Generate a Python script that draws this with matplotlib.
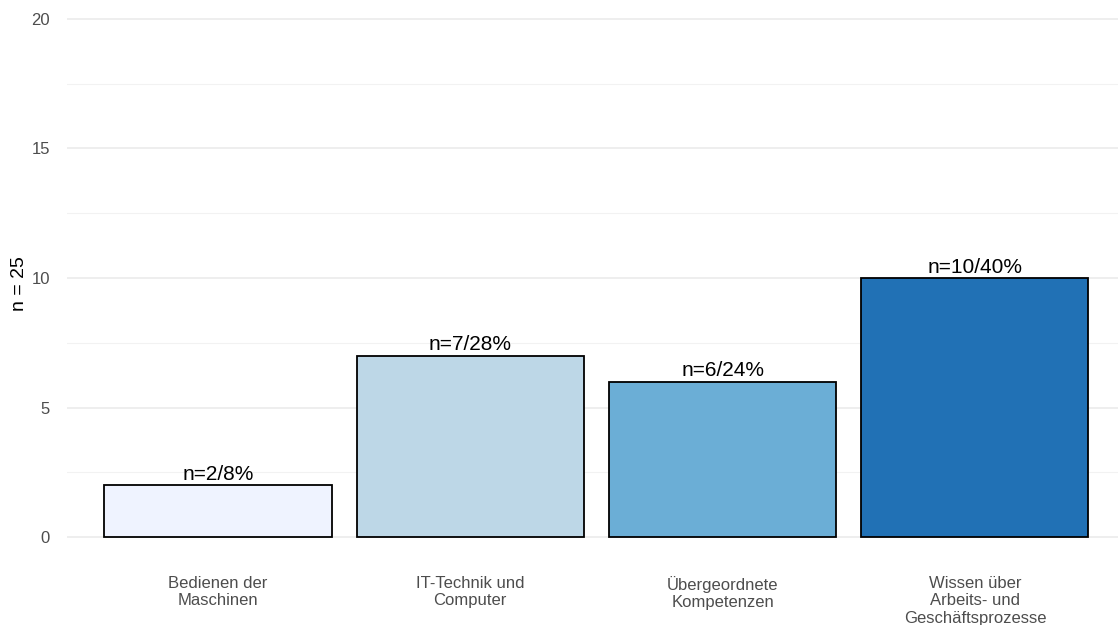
import matplotlib
matplotlib.use("Agg")
import matplotlib.pyplot as plt
from matplotlib.ticker import MultipleLocator

plt.rcParams['font.family'] = ['Liberation Sans', 'DejaVu Sans']

# data
categories = ["Bedienen der\nMaschinen", "IT-Technik und\nComputer",
              "Übergeordnete\nKompetenzen", "Wissen über\nArbeits- und\nGeschäftsprozesse"]
counts = [2, 7, 6, 10]
labels = ["n=2/8%", "n=7/28%", "n=6/24%", "n=10/40%"]
colors = ["#EFF3FF", "#BDD7E7", "#6BAED6", "#2171B5"]

W, H = 1118, 625
fig = plt.figure(figsize=(W / 100, H / 100), dpi=100)
left, right = 66.6, 1118
bottom, top = 539.6, 16.4
ax = fig.add_axes([left / W, 1 - bottom / H, (right - left) / W, (bottom - top) / H])

x = range(len(categories))
ax.bar(x, counts, width=0.9, color=colors, edgecolor="black", linewidth=1.3, zorder=3)

for i, v in enumerate(counts):
    ax.text(i, v + 0.05, labels[i], ha='center', va='bottom', fontsize=15, color='black', zorder=4)

ax.set_xlim(-0.6, -0.6 + (right - left) / 252.3)
ax.set_ylim(-0.1, 20.1)
ax.yaxis.set_major_locator(MultipleLocator(5))
ax.yaxis.set_minor_locator(MultipleLocator(2.5))
ax.grid(axis='y', which='major', color='#EBEBEB', linewidth=1.2, zorder=0)
ax.grid(axis='y', which='minor', color='#F2F2F2', linewidth=0.8, zorder=0)
ax.grid(axis='x', visible=False)

ax.set_xticks(list(x))
ax.set_xticklabels(categories, fontsize=12, color='#4D4D4D', linespacing=1.2)
ax.tick_params(axis='x', length=0, pad=26)
ax.tick_params(axis='y', which='both', length=0, labelsize=12, labelcolor='#4D4D4D', pad=12)
ax.set_ylabel("n = 25", fontsize=14, color='black', va='center')
ax.yaxis.set_label_coords((20 - left) / (right - left), 0.49)

for s in ax.spines.values():
    s.set_visible(False)

fig.savefig("out.png", dpi=100)
